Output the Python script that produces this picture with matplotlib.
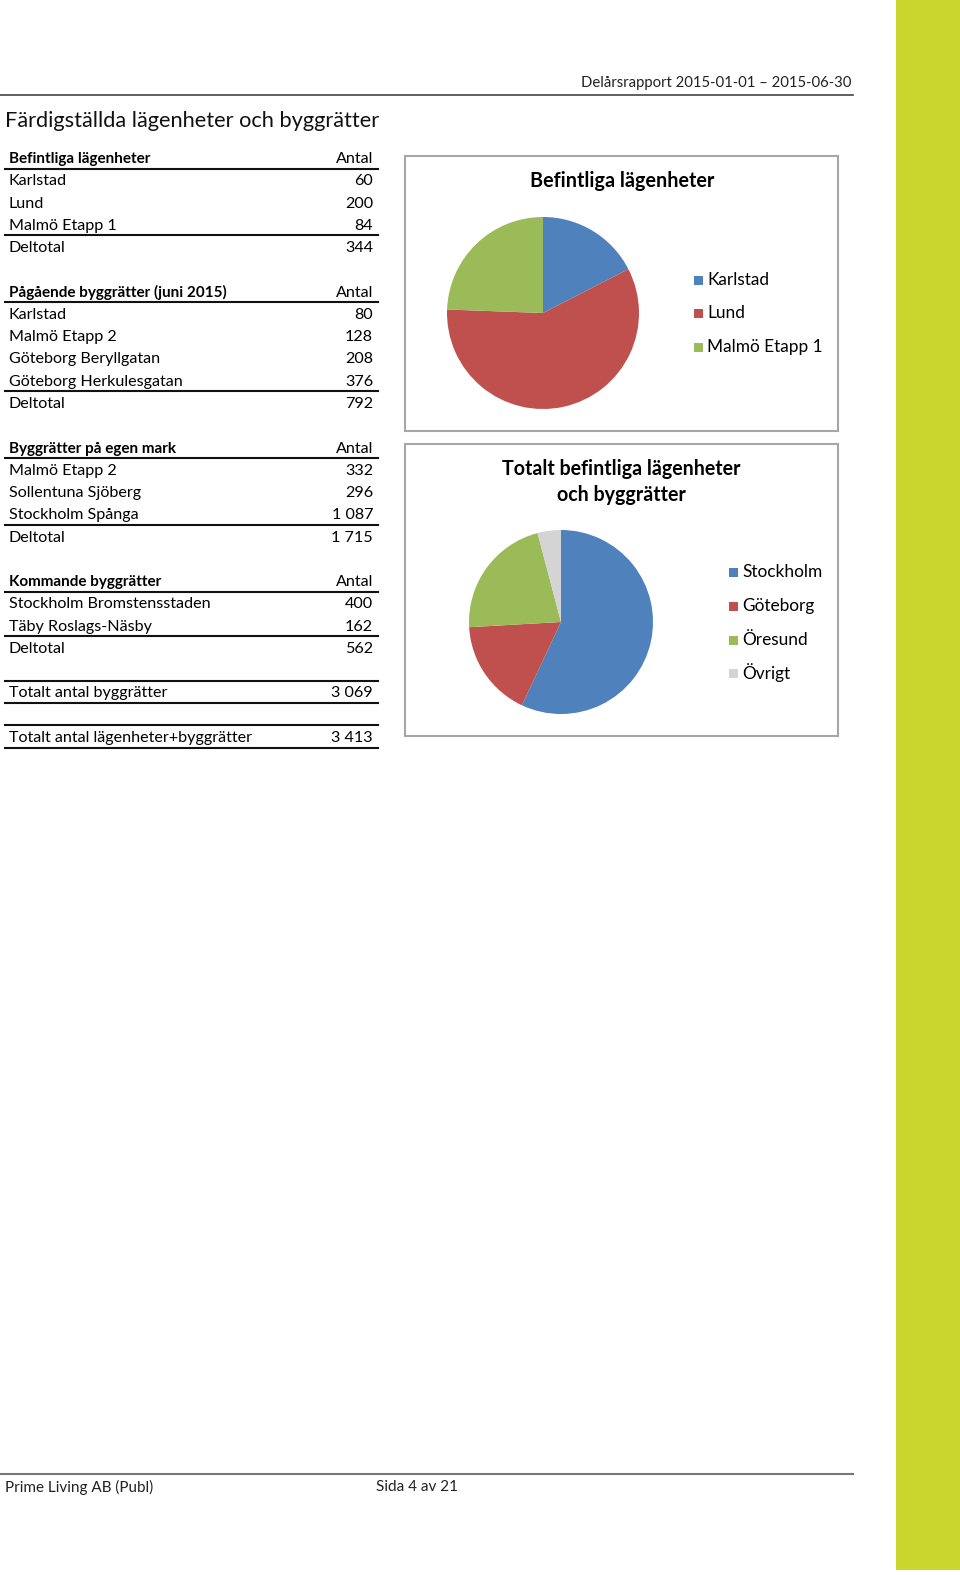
import matplotlib.pyplot as plt
from matplotlib.patches import Rectangle

# Table data
befintliga = ["Karlstad", "Lund", "Malmö Etapp 1"]
befintliga_antal = [60, 200, 84]
pagaende = ["Karlstad", "Malmö Etapp 2", "Göteborg Beryllgatan", "Göteborg Herkulesgatan"]
pagaende_antal = [80, 128, 208, 376]
egen_mark = ["Malmö Etapp 2", "Sollentuna Sjöberg", "Stockholm Spånga"]
egen_mark_antal = [332, 296, 1087]
kommande = ["Stockholm Bromstensstaden", "Täby Roslags-Näsby"]
kommande_antal = [400, 162]

# Pie data
pie1_labels = ["Karlstad", "Lund", "Malmö Etapp 1"]
pie1_values = [60, 200, 84]
pie2_labels = ["Stockholm", "Göteborg", "Öresund", "Övrigt"]
pie2_values = [1945, 584, 744, 140]
pie_colors = ["#4F81BD", "#C0504D", "#9BBB59", "#D4D4D4"]

FONT = "Lato"
plt.rcParams["font.family"] = [FONT, "DejaVu Sans"]

W, H = 960, 1575
fig = plt.figure(figsize=(W / 100, H / 100), dpi=100)
ax = fig.add_axes([0, 0, 1, 1])
ax.set_xlim(0, W)
ax.set_ylim(H, 0)
ax.axis("off")


def fmt(v):
    return f"{v:,}".replace(",", " ")


# green stripe on the right
ax.add_patch(Rectangle((896, 0), W - 896, 1570, color="#C8D62E", lw=0))

# page header / footer
ax.plot([0, 853], [94.5, 94.5], color="#444444", lw=1.2)
ax.text(851, 83, "Delårsrapport 2015-01-01 – 2015-06-30", ha="right", va="center", fontsize=10.7, color="#222222")
ax.text(5, 121, "Färdigställda lägenheter och byggrätter", ha="left", va="center", fontsize=15.7, color="#111111")
ax.plot([0, 853], [1474, 1474], color="#777777", lw=1.5)
ax.text(5, 1487, "Prime Living AB (Publ)", ha="left", va="center", fontsize=11, color="#222222")
ax.text(376, 1487, "Sida 4 av 21", ha="left", va="center", fontsize=11, color="#222222")

# table
ROW0, STEP = 159, 22.27
XL, XR, LX0, LX1 = 9, 373, 5, 378
TS, TB = 11.6, 11


def rowy(i):
    return ROW0 + STEP * i


def hline(y):
    ax.plot([LX0, LX1], [y, y], color="#111111", lw=1.5)


def section(start, title, names, values):
    ax.text(XL, rowy(start), title, ha="left", va="center", fontsize=TB, fontweight="bold")
    ax.text(XR, rowy(start), "Antal", ha="right", va="center", fontsize=TS)
    hline(rowy(start) + 9.5)
    for k, (n, v) in enumerate(zip(names, values)):
        y = rowy(start + 1 + k)
        ax.text(XL, y, n, ha="left", va="center", fontsize=TS)
        ax.text(XR, y, fmt(v), ha="right", va="center", fontsize=TS)
    last = start + len(names)
    hline(rowy(last) + 9.5)
    ax.text(XL, rowy(last + 1), "Deltotal", ha="left", va="center", fontsize=TS)
    ax.text(XR, rowy(last + 1), fmt(sum(values)), ha="right", va="center", fontsize=TS)


section(0, "Befintliga lägenheter", befintliga, befintliga_antal)
section(6, "Pågående byggrätter (juni 2015)", pagaende, pagaende_antal)
section(13, "Byggrätter på egen mark", egen_mark, egen_mark_antal)
section(19, "Kommande byggrätter", kommande, kommande_antal)

tot_bygg = sum(pagaende_antal) + sum(egen_mark_antal) + sum(kommande_antal)
tot_all = tot_bygg + sum(befintliga_antal)
for i, label, v in [(24, "Totalt antal byggrätter", tot_bygg), (26, "Totalt antal lägenheter+byggrätter", tot_all)]:
    hline(rowy(i) - 12.8)
    hline(rowy(i) + 9.5)
    ax.text(XL, rowy(i), label, ha="left", va="center", fontsize=TS)
    ax.text(XR, rowy(i), fmt(v), ha="right", va="center", fontsize=TS)

# chart boxes
ax.add_patch(Rectangle((404.5, 155.5), 433.5, 275, fill=False, ec="#A6A6A6", lw=1.5))
ax.add_patch(Rectangle((404.5, 443.5), 433.5, 292, fill=False, ec="#A6A6A6", lw=1.5))


def pie(cx, cy, r, values, colors):
    pax = fig.add_axes([(cx - r) / W, 1 - (cy + r) / H, 2 * r / W, 2 * r / H])
    pax.pie(values, colors=colors, startangle=90, counterclock=False, radius=1,
            wedgeprops=dict(linewidth=0))
    pax.set_xlim(-1, 1)
    pax.set_ylim(-1, 1)
    pax.axis("off")


def legend(x, ys, labels, colors):
    for y, lab, c in zip(ys, labels, colors):
        ax.add_patch(Rectangle((x - 4.5, y - 4.5), 9, 9, color=c, lw=0))
        ax.text(x + 9, y, lab, ha="left", va="center", fontsize=12.4)


# chart 1
ax.text(622, 181, "Befintliga lägenheter", ha="center", va="center", fontsize=14.2, fontweight="bold")
pie(543, 313, 96, pie1_values, pie_colors[:3])
legend(698, [280, 313, 347], pie1_labels, pie_colors[:3])

# chart 2
ax.text(621, 469, "Totalt befintliga lägenheter", ha="center", va="center", fontsize=14.1, fontweight="bold")
ax.text(621, 495, "och byggrätter", ha="center", va="center", fontsize=14.1, fontweight="bold")
pie(561, 622, 92, pie2_values, pie_colors)
legend(733, [572, 606, 640, 673], pie2_labels, pie_colors)

fig.savefig("out.png", dpi=100)
